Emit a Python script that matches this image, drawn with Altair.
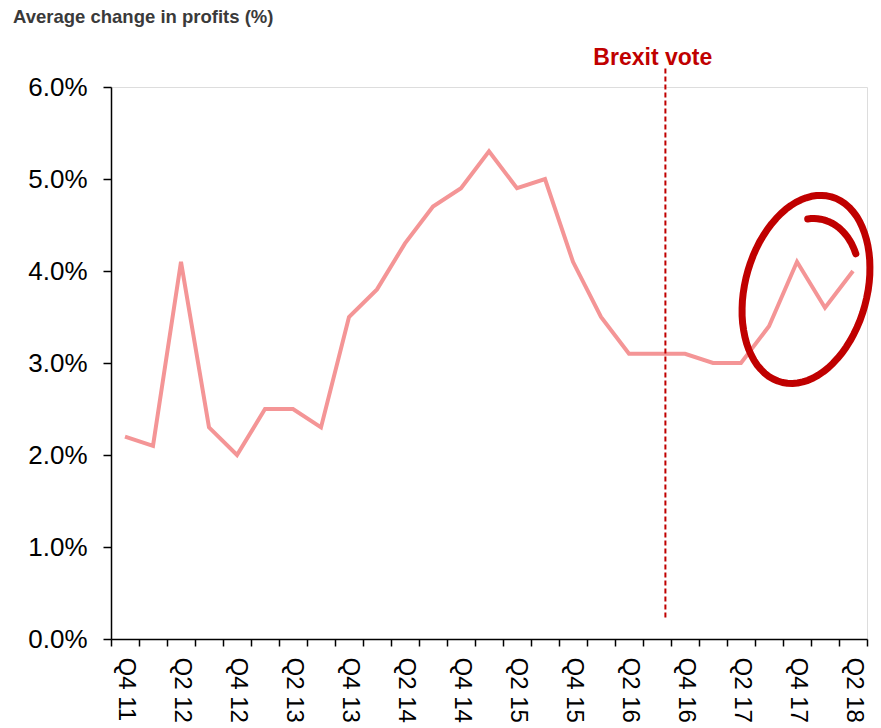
import altair as alt
import pandas as pd
import numpy as np

quarters = ["Q4 11", "Q1 12", "Q2 12", "Q3 12", "Q4 12", "Q1 13", "Q2 13", "Q3 13",
            "Q4 13", "Q1 14", "Q2 14", "Q3 14", "Q4 14", "Q1 15", "Q2 15", "Q3 15",
            "Q4 15", "Q1 16", "Q2 16", "Q3 16", "Q4 16", "Q1 17", "Q2 17", "Q3 17",
            "Q4 17", "Q1 18", "Q2 18"]
profits = [2.2, 2.1, 4.1, 2.3, 2.0, 2.5, 2.5, 2.3, 3.5, 3.8, 4.3, 4.7, 4.9, 5.3, 4.9,
           5.0, 4.1, 3.5, 3.1, 3.1, 3.1, 3.0, 3.0, 3.4, 4.1, 3.6, 4.0]
y_ticks = [0.0, 0.01, 0.02, 0.03, 0.04, 0.05, 0.06]

brexit_quarter = ["Q3 16"]
brexit_top = [6.2]
brexit_bottom = [0.23]
brexit_label_y = [6.24]
brexit_label = ["Brexit vote"]

circle_quarter = ["Q4 17"]
circle_y = [3.8]

FONT = "Liberation Sans"
DARK_RED = "#C00000"
LINE_COL = "#F49596"

df = pd.DataFrame({"q": quarters, "v": [p / 100 for p in profits]})
brexit = pd.DataFrame({
    "q": brexit_quarter,
    "top": [v / 100 for v in brexit_top],
    "bottom": [v / 100 for v in brexit_bottom],
    "ly": [v / 100 for v in brexit_label_y],
    "label": brexit_label,
})
circ = pd.DataFrame({"q": circle_quarter, "v": [v / 100 for v in circle_y]})


def ellipse_path(a, b, theta_deg, t0, t1, n, dx=0.0, dy=0.0):
    th = np.radians(theta_deg)
    d = (np.sin(th), -np.cos(th))
    nn = (np.cos(th), np.sin(th))
    ts = np.linspace(t0, t1, n)
    pts = [(a * np.cos(t) * d[0] + b * np.sin(t) * nn[0] + dx,
            a * np.cos(t) * d[1] + b * np.sin(t) * nn[1] + dy) for t in ts]
    return "M" + " L".join(f"{x:.3f},{y:.3f}" for x, y in pts)


shape = (ellipse_path(0.96, 0.61, 15, 0.35, 0.35 + 2 * np.pi + 0.15, 80, dx=0.09)
         + " " + ellipse_path(0.72, 0.53, 15, -0.3, 0.85, 20, dx=0.08))

x_scale = alt.Scale(domain=quarters, paddingInner=0, paddingOuter=0)
y_scale = alt.Scale(domain=[0, 0.06], nice=False, zero=True)

x_axis = alt.Axis(
    title=None, labelAngle=90, labelFontSize=24, labelFont=FONT, labelColor="black",
    labelExpr="(substring(datum.value,0,2)=='Q4' || substring(datum.value,0,2)=='Q2') ? datum.value : ''",
    tickBand="extent", tickSize=7, tickColor="black", tickWidth=1.5,
    domainColor="black", domainWidth=1.5, labelPadding=11, grid=False,
    labelAlign="left", labelBaseline="middle", labelOverlap=False,
)
y_axis = alt.Axis(
    title=None, values=y_ticks, format=".1%", labelFontSize=26, labelFont=FONT,
    labelColor="black", tickSize=8, tickColor="black", tickWidth=1.5,
    domainColor="black", domainWidth=1.5, labelPadding=16, grid=False,
)

line = alt.Chart(df).mark_line(color=LINE_COL, strokeWidth=4).encode(
    x=alt.X("q:N", scale=x_scale, axis=x_axis, sort=quarters),
    y=alt.Y("v:Q", scale=y_scale, axis=y_axis),
)

rule = alt.Chart(brexit).mark_rule(color=DARK_RED, strokeWidth=2, strokeDash=[5, 3]).encode(
    x=alt.X("q:N", scale=x_scale, sort=quarters, bandPosition=0.8),
    y=alt.Y("top:Q", scale=y_scale),
    y2="bottom:Q",
)

label = alt.Chart(brexit).mark_text(
    color=DARK_RED, font=FONT, fontSize=23, fontWeight="bold",
    align="center", baseline="alphabetic",
).encode(
    x=alt.X("q:N", scale=x_scale, sort=quarters, bandPosition=0.35),
    y=alt.Y("ly:Q", scale=y_scale),
    text="label:N",
)

ring = alt.Chart(circ).mark_point(
    shape=shape, size=40000, filled=False, stroke=DARK_RED, strokeWidth=7,
    opacity=1, strokeCap="round", strokeJoin="round",
).encode(
    x=alt.X("q:N", scale=x_scale, sort=quarters),
    y=alt.Y("v:Q", scale=y_scale),
)

chart = alt.layer(line, rule, label, ring).properties(
    width=756, height=552,
    autosize=alt.AutoSizeParams(type="none"),
    padding={"left": 111, "top": 87, "right": 14, "bottom": 89},
    title=alt.TitleParams(
        "Average change in profits (%)", anchor="start", frame="group",
        font=FONT, fontSize=18.5, fontWeight="bold", color="#3a3a3a",
        baseline="alphabetic", dx=-98, dy=20, offset=25,
    ),
).configure_view(stroke=None).configure(background="white")

chart.save("out.html", embed_options={"renderer": "svg", "actions": False})
